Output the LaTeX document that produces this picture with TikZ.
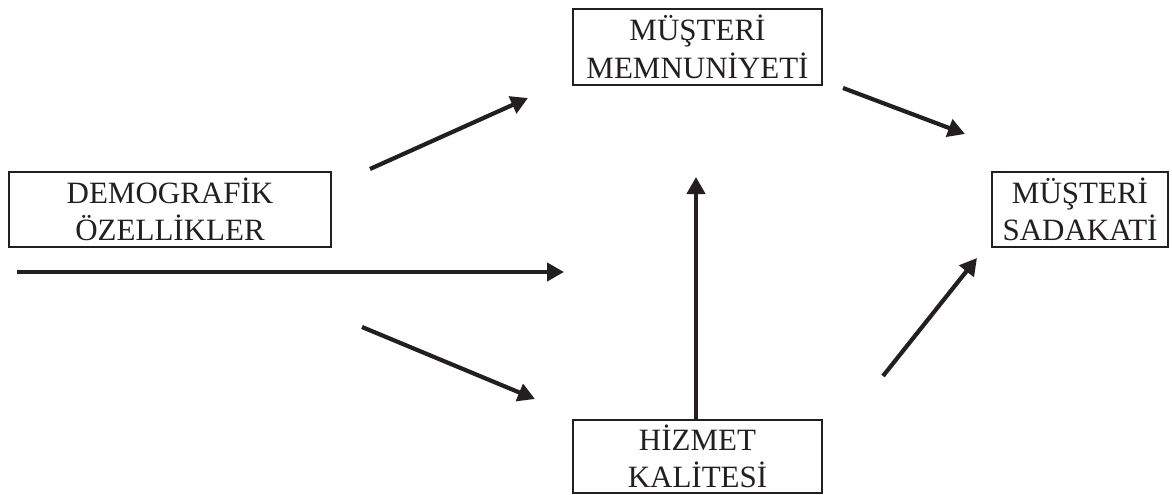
\documentclass[tikz,border=0pt]{standalone}
\usepackage{fontspec}
\setmainfont{Liberation Serif}
\usetikzlibrary{arrows.meta}
\definecolor{ink}{RGB}{35,31,32}
\begin{document}
\begin{tikzpicture}[x=1pt,y=-1pt,
  box/.style={draw=ink, line width=2.8pt, inner sep=0pt, align=center,
    font=\fontsize{31}{37.5}\selectfont, text=ink},
  arr/.style={draw=ink, line width=4.2pt, -{Triangle[length=17pt,width=18pt]}}]
\useasboundingbox (0,0) rectangle (1172,495);
\node[box, minimum width=322pt, minimum height=75pt] (demo) at (170,209.5) {DEMOGRAFİK\\ÖZELLİKLER};
\node[box, minimum width=249pt, minimum height=76pt] (memn) at (697.5,47) {MÜŞTERİ\\MEMNUNİYETİ};
\node[box, minimum width=176pt, minimum height=75pt] (sada) at (1080,209.5) {MÜŞTERİ\\SADAKATİ};
\node[box, minimum width=249pt, minimum height=73pt] (hizm) at (697.5,456.5) {HİZMET\\KALİTESİ};
\coordinate (a1s) at (370,169); \coordinate (a1e) at (528,98);
\coordinate (a2s) at (17,272);  \coordinate (a2e) at (564,272);
\coordinate (a3s) at (362,327); \coordinate (a3e) at (535,399);
\coordinate (a5s) at (843,88);  \coordinate (a5e) at (965,134);
\coordinate (a6s) at (883,376); \coordinate (a6e) at (977,258);
\coordinate (a4e) at (696,177);
\draw[arr] (a1s) -- (a1e);
\draw[arr] (a2s) -- (a2e);
\draw[arr] (a3s) -- (a3e);
\draw[arr] (hizm.north -| a4e) -- (a4e);
\draw[arr] (a5s) -- (a5e);
\draw[arr] (a6s) -- (a6e);
\end{tikzpicture}
\end{document}
